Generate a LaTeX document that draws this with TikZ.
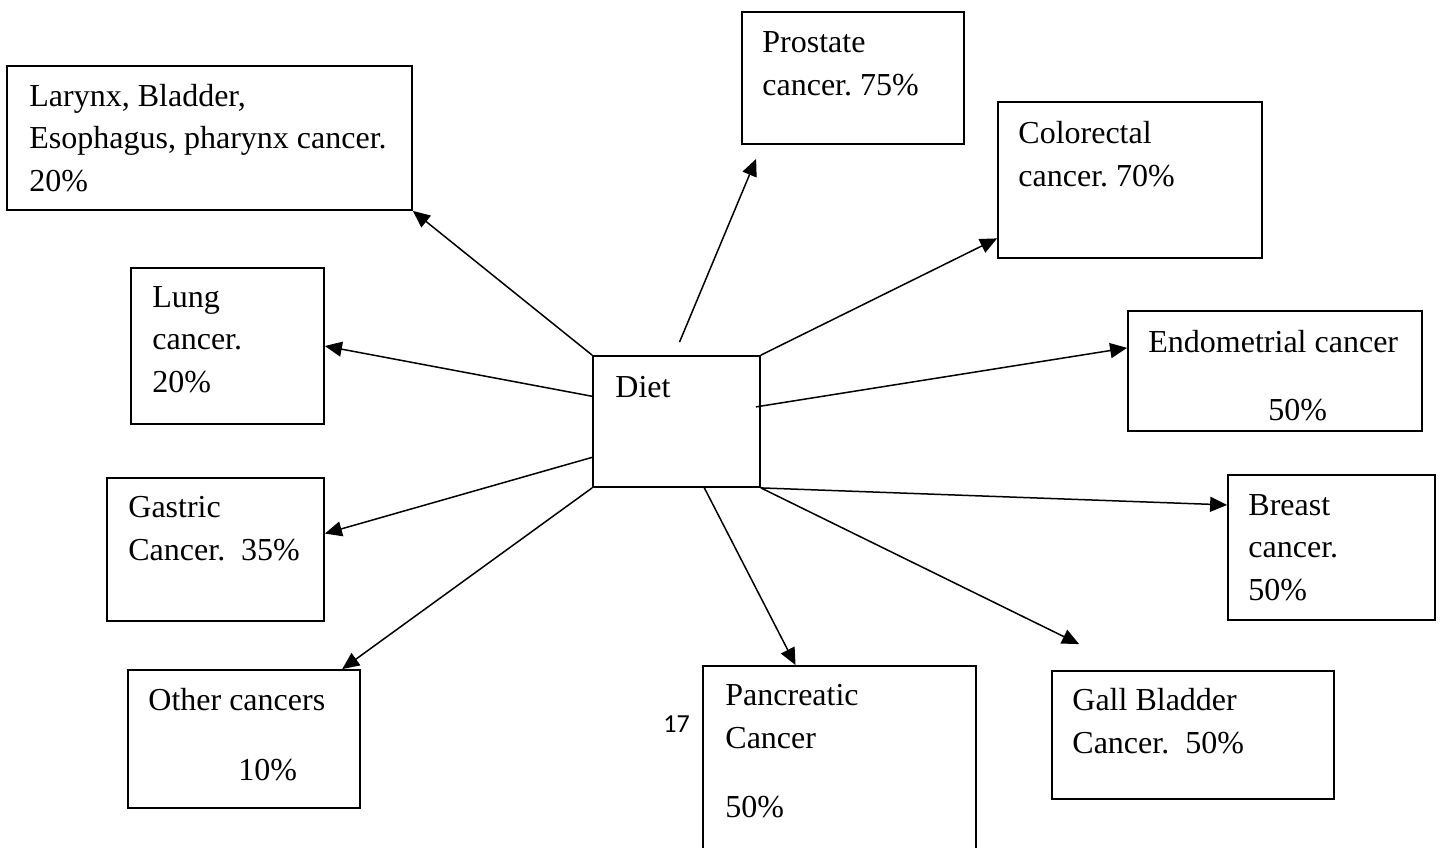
\documentclass[tikz,border=0pt]{standalone}
\usepackage{fontspec}
\setmainfont{Liberation Serif}
\newfontfamily\calfont{Carlito}
\usetikzlibrary{arrows.meta,calc,fit}
\frenchspacing
\begin{document}
\begin{tikzpicture}[x=0.5pt,y=-0.5pt,
  box/.style={draw=black,line width=0.9pt,inner sep=0pt,rectangle},
  txt/.style={inner sep=0pt,anchor=base west,align=left,font=\fontsize{16pt}{21.2pt}\selectfont},
  arr/.style={line width=0.75pt,-{Triangle[length=8.5pt,width=7.5pt]}}]
\clip (0,0) rectangle (1443,847);
\fill[white] (0,0) rectangle (1443,847);
% boxes
\node[box,fit={(7,66)(412,210)}] (larynx) {};
\node[box,fit={(742,12)(964,144)}] (prostate) {};
\node[box,fit={(998,102)(1262,258)}] (colorectal) {};
\node[box,fit={(131,268)(324,424)}] (lung) {};
\node[box,fit={(593,356)(760,487)}] (diet) {};
\node[box,fit={(1128,311)(1422,431)}] (endometrial) {};
\node[box,fit={(107,478)(324,621)}] (gastric) {};
\node[box,fit={(1228,475)(1435,620)}] (breast) {};
\node[box,fit={(128,670)(360,808)}] (other) {};
\node[box,fit={(703,666)(976,870)}] (pancreatic) {};
\node[box,fit={(1052,671)(1334,799)}] (gall) {};
% texts (anchor = baseline of the last line)
\node[txt] (tlarynx) at (29,191) {Larynx, Bladder,\\Esophagus, pharynx cancer.\\20\%};
\node[txt] (tprostate) at (762,95) {Prostate\\cancer. 75\%};
\node[txt] (tcolorectal) at (1018,186) {Colorectal\\cancer. 70\%};
\node[txt] (tlung) at (152,392) {Lung\\cancer.\\20\%};
\node[txt] (tdiet) at (615,397) {Diet};
\node[txt] (tendo) at (1148,352) {Endometrial cancer};
\node[txt] (tendop) at (1268,420) {50\%};
\node[txt] (tgastric) at (128,560) {Gastric\\Cancer.\ \ 35\%};
\node[txt] (tbreast) at (1248,600) {Breast\\cancer.\\50\%};
\node[txt] (tother) at (148,710) {Other cancers};
\node[txt] (totherp) at (238,780) {10\%};
\node[txt] (tpanc) at (725,748) {Pancreatic\\Cancer};
\node[txt] (tpancp) at (725,817) {50\%};
\node[txt] (tgall) at (1072,753) {Gall Bladder\\Cancer.\ \ 50\%};
\node[inner sep=0pt,anchor=base west,font=\calfont\fontsize{13pt}{15pt}\selectfont] (pagenum) at (663,732) {17};
% free ends
\coordinate (prostateEnd) at ($(prostate.south west)+(15,14)$);
\coordinate (prostateStart) at ($(diet.north)+(3,-13)$);
\coordinate (gallEnd) at ($(gall.north west)+(28,-26)$);
\coordinate (endoStart) at ($($(diet.north east)!0.39!(diet.south east)$)+(-5,0)$);
% connectors
\draw[arr] (diet.north west) -- (larynx.south east);
\draw[arr] ($(diet.north west)!0.31!(diet.south west)$) -- (lung.east);
\draw[arr] ($(diet.north west)!0.77!(diet.south west)$) -- ($(gastric.north east)!0.39!(gastric.south east)$);
\draw[arr] (diet.south west) -- ($(other.north west)!0.92!(other.north east)$);
\draw[arr] (prostateStart) -- (prostateEnd);
\draw[arr] (diet.north east) -- ($(colorectal.north west)!0.87!(colorectal.south west)$);
\draw[arr] (endoStart) -- ($(endometrial.north west)!0.31!(endometrial.south west)$);
\draw[arr] (diet.south east) -- ($(breast.north west)!0.21!(breast.south west)$);
\draw[arr] (diet.south east) -- (gallEnd);
\draw[arr] ($(diet.south west)!0.665!(diet.south east)$) -- ($(pancreatic.north west)!0.34!(pancreatic.north east)$);
\end{tikzpicture}
\end{document}
